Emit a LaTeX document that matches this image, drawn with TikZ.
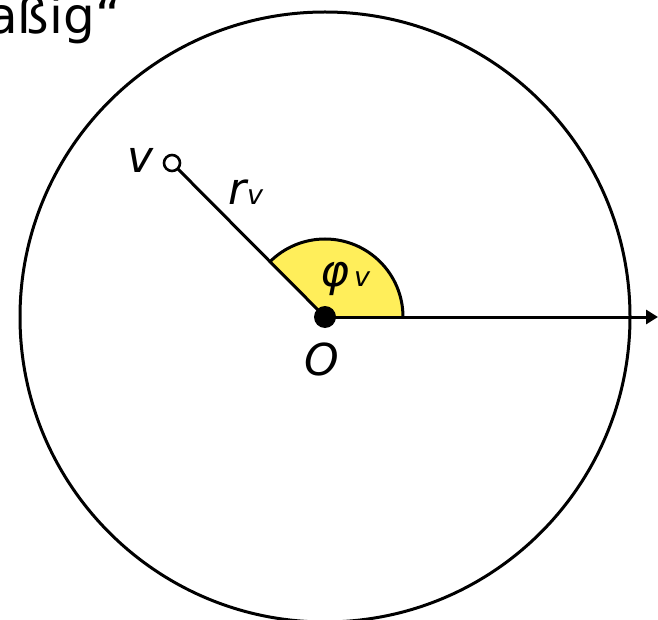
\documentclass[tikz,border=0pt]{standalone}
\usepackage{fontspec}
\setmainfont{DejaVu Sans}
\usetikzlibrary{arrows.meta}
\definecolor{sectoryellow}{HTML}{FFEE5A}
\begin{document}
\begin{tikzpicture}[x=1pt,y=-1pt,
  ln/.style={line width=3pt},
  lbl/.style={font=\fontsize{44}{48}\selectfont\itshape, inner sep=0pt, anchor=base},
  sub/.style={font=\fontsize{27}{30}\selectfont\itshape, inner sep=0pt, anchor=base}]
\useasboundingbox (0,0) rectangle (658,620);
\clip (0,0) rectangle (658,620);
\coordinate (O) at (325,317);
\coordinate (V) at (172,163);
\coordinate (E) at (658,317);
% circle
\draw[ln] (O) circle[radius=305];
% sector (y axis points down, so negative angles go up)
\fill[fill=sectoryellow] (O) -- ++(0:78) arc[start angle=0,end angle=-135,radius=78] -- cycle;
\draw[ln] (O) ++(0:78) arc[start angle=0,end angle=-135,radius=78];
% radius line
\draw[ln] (O) -- (V);
% axis
\draw[ln,-{Triangle[length=12pt,width=14pt]}] (O) -- (E);
% points
\node[circle,draw,line width=2.6pt,fill=white,minimum size=16pt,inner sep=0pt] (v) at (V) {};
\node[circle,fill=black,minimum size=22pt,inner sep=0pt] (o) at (O) {};
% labels
\node[lbl] (lv) at (141,173) {v};
\node[lbl,anchor=base east] (lr) at (247,205) {r};
\node[sub,anchor=base west] (lrv) at (lr.base east) {v};
\node[lbl,anchor=base east] (lphi) at (350,287) {φ};
\node[sub,anchor=base west] (lphiv) at ([xshift=4pt]lphi.base east) {v};
\node[lbl] (lo) at (322,375) {O};
% top-left text
\node[font=\fontsize{50}{54}\selectfont, inner sep=0pt, anchor=base west] (top) at (-13,34) {aßig“};
\end{tikzpicture}
\end{document}
